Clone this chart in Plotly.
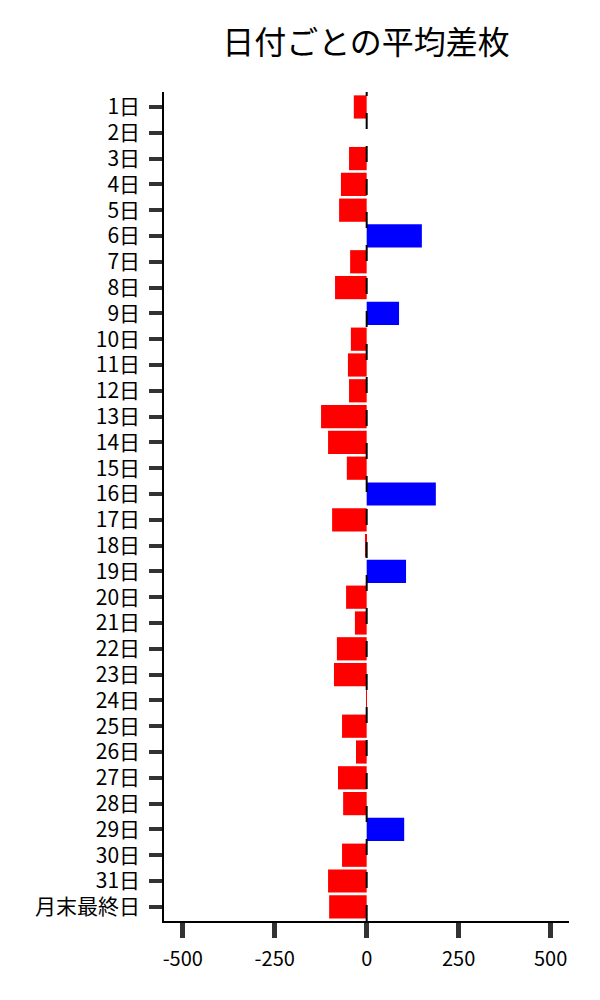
import plotly.graph_objects as go

days = [f"{i}日" for i in range(1, 32)] + ["月末最終日"]
values = [-35, 0, -48, -70, -75, 150, -45, -86, 88, -43, -51, -48, -124, -105, -54, 188,
          -94, -2, 107, -56, -32, -81, -89, -1, -67, -29, -78, -64, 102, -67, -105, -102]
colors = ["#0000FF" if v > 0 else "#FF0000" for v in values]

fig = go.Figure(go.Bar(
    x=values, y=days, orientation="h",
    marker=dict(color=colors, line=dict(width=0)),
))

fig.add_shape(type="line", x0=0, x1=0, y0=0, y1=1, xref="x", yref="paper",
              line=dict(color="black", width=2, dash="16px,17px"), layer="above")

font = "Noto Sans CJK JP, Noto Sans, sans-serif"
fig.update_layout(
    width=600, height=1000,
    margin=dict(l=156, r=39, t=84, b=87),
    paper_bgcolor="white", plot_bgcolor="white",
    bargap=0.1,
    showlegend=False,
    font=dict(family=font, size=20, color="black"),
    title=dict(text="日付ごとの平均差枚", x=358 / 600, xanchor="center", xref="container",
               y=1 - 35 / 1000, yanchor="middle", yref="container",
               font=dict(size=32, family=font, color="black")),
)
fig.update_xaxes(
    range=[-551, 550], tickvals=[-500, -250, 0, 250, 500],
    ticktext=["-500", "-250", "0", "250", "500"],
    showgrid=False, zeroline=False,
    showline=True, linecolor="black", linewidth=1.5,
    ticks="outside", ticklen=15, tickwidth=5, tickcolor="#333333",
    ticklabelstandoff=4, automargin=False,
    tickfont=dict(size=20),
)
fig.update_yaxes(
    categoryorder="array", categoryarray=days,
    range=[31.55, -0.58], autorange=False,
    showgrid=False, zeroline=False,
    showline=True, linecolor="black", linewidth=1.5,
    ticks="outside", ticklen=13, tickwidth=4, tickcolor="#333333",
    ticklabelstandoff=5, automargin=False,
    tickfont=dict(size=21),
)

fig.write_html("out.html")
